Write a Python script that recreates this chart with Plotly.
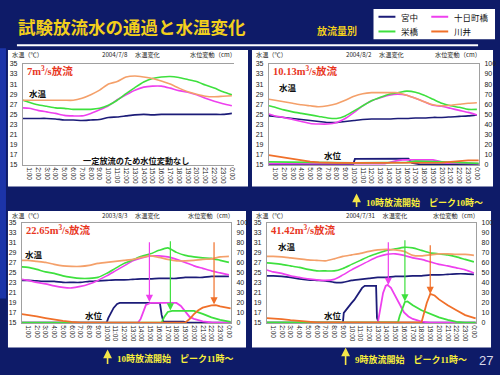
import plotly.graph_objects as go

# ---------------- data ----------------
TICK_HOURS = [1, 2, 3, 4, 5, 6, 7, 8, 9, 10, 11, 12, 13, 14, 15, 16, 17, 18, 19, 20, 21, 22, 23, 24]
TICK_LABELS = ["1:00", "2:00", "3:00", "4:00", "5:00", "6:00", "7:00", "8:00", "9:00", "10:00",
               "11:00", "12:00", "13:00", "14:00", "15:00", "16:00", "17:00", "18:00", "19:00",
               "20:00", "21:00", "22:00", "23:00", "0:00"]
TEMP_HOURS = [0.3, 1, 2, 3, 4, 5, 6, 7, 8, 9, 10, 11, 12, 13, 14, 15, 16, 17, 18, 19, 20, 21, 22, 23, 24]

STATIONS = ["宮中", "十日町橋", "栄橋", "川井"]
PANEL_DATES = ["2004/7/8", "2004/8/2", "2003/8/3", "2004/7/31"]
PANEL_FLOWS = ["7", "10.13", "22.65", "41.42"]

# panel 1 : 2004/7/8  (water temperature, deg C)
P1_MIYANAKA = [24.2, 24.2, 24.2, 24.2, 24.1, 23.9, 23.9, 23.8, 23.9, 24.0, 24.4, 24.5, 24.7, 24.9, 25.0, 24.9, 25.0, 25.0, 25.0, 25.0, 25.0, 25.0, 25.0, 25.0, 25.2]
P1_TOKAMACHI = [26.3, 26.2, 25.8, 25.5, 25.2, 24.8, 24.7, 24.7, 25.2, 25.9, 26.7, 27.9, 28.9, 29.8, 30.4, 30.6, 30.6, 30.2, 29.7, 29.4, 28.9, 28.2, 27.6, 27.1, 26.7]
P1_SAKAE = [27.8, 27.4, 26.9, 26.6, 26.3, 26.2, 26.0, 26.0, 26.0, 26.2, 26.8, 27.8, 29.1, 30.3, 31.4, 32.1, 32.4, 32.5, 32.3, 31.9, 31.5, 30.8, 30.2, 29.5, 28.9]
P1_KAWAI = [27.8, 27.8, 27.8, 27.8, 27.8, 27.8, 27.8, 28.2, 28.9, 29.8, 31.0, 31.5, 32.4, 32.6, 32.4, 32.1, 31.6, 31.0, 30.2, 29.5, 29.0, 28.6, 28.5, 28.6, 28.7]

# panel 2 : 2004/8/2
P2_MIYANAKA = [24.7, 24.6, 24.4, 24.2, 24.0, 23.8, 23.6, 23.4, 23.4, 23.6, 23.8, 24.0, 24.1, 24.1, 24.1, 24.2, 24.2, 24.3, 24.3, 24.4, 24.4, 24.5, 24.6, 24.7, 24.9]
P2_TOKAMACHI = [25.1, 24.7, 24.4, 24.0, 23.6, 23.2, 23.1, 23.1, 23.4, 24.2, 25.4, 26.7, 27.7, 28.3, 28.8, 29.0, 28.8, 28.2, 27.5, 26.8, 26.6, 26.2, 25.8, 25.4, 24.9]
P2_SAKAE = [26.7, 26.4, 25.9, 25.5, 25.2, 24.9, 24.6, 24.3, 24.2, 24.7, 25.7, 26.7, 27.7, 28.4, 29.0, 29.3, 29.6, 29.4, 28.8, 28.0, 27.2, 26.7, 26.4, 26.0, 26.0]
P2_KAWAI = [28.0, 27.8, 27.5, 27.2, 26.9, 26.7, 26.5, 26.7, 27.1, 27.8, 28.6, 29.1, 29.3, 29.3, 29.3, 29.3, 28.8, 28.2, 27.5, 26.9, 26.7, 26.8, 27.0, 27.2, 27.3]

# panel 3 : 2003/8/3
P3_MIYANAKA = [23.5, 23.5, 23.4, 23.3, 23.3, 23.1, 23.1, 23.1, 23.3, 23.4, 23.5, 23.6, 23.6, 23.7, 23.8, 23.8, 23.9, 23.9, 23.9, 24.1, 24.1, 24.1, 24.3, 24.3, 24.3]
P3_TOKAMACHI = [23.7, 23.5, 23.1, 22.8, 22.4, 22.1, 22.0, 22.3, 22.8, 23.5, 24.4, 25.4, 26.4, 27.4, 28.0, 28.4, 28.4, 28.2, 27.7, 27.1, 26.4, 25.9, 25.4, 25.0, 24.6]
P3_SAKAE = [26.2, 26.1, 25.7, 25.2, 24.9, 24.4, 24.1, 23.9, 23.9, 24.1, 24.9, 25.9, 26.9, 27.6, 28.3, 28.8, 29.5, 30.0, 29.1, 28.5, 28.2, 28.0, 27.9, 27.5, 27.1]
P3_KAWAI = [27.5, 27.5, 27.3, 27.1, 26.7, 26.4, 26.3, 26.3, 26.5, 26.9, 27.1, 27.3, 27.5, 27.7, 28.1, 28.4, 28.1, 27.7, 27.4, 27.4, 27.5, 27.7, 27.8, 28.2, 28.3]

# panel 4 : 2004/7/31
P4_MIYANAKA = [24.4, 24.4, 24.3, 24.1, 23.8, 23.6, 23.5, 23.4, 23.1, 23.1, 23.5, 23.7, 23.9, 24.1, 24.1, 24.3, 24.3, 24.4, 24.4, 24.6, 24.6, 24.7, 24.8, 24.8, 24.7]
P4_TOKAMACHI = [25.6, 25.2, 24.9, 24.4, 24.1, 23.8, 23.6, 23.5, 23.7, 24.6, 25.6, 26.5, 27.4, 28.2, 28.7, 28.8, 28.5, 28.0, 27.7, 27.2, 26.7, 26.4, 26.0, 25.6, 25.0]
P4_SAKAE = [27.0, 26.9, 26.7, 26.4, 26.1, 25.7, 25.4, 25.4, 25.4, 25.9, 26.7, 27.5, 28.3, 28.9, 29.5, 29.8, 30.1, 30.0, 29.5, 29.0, 28.8, 28.6, 28.2, 27.7, 27.2]
P4_KAWAI = [28.3, 28.3, 28.2, 28.0, 27.8, 27.6, 27.5, 27.4, 27.8, 28.3, 28.6, 28.9, 29.3, 29.6, 29.7, 29.6, 29.3, 28.5, 28.4, 28.6, 28.8, 28.8, 28.7, 28.7, 28.5]

# water level change (cm) : hours / values
P2_LV_MIYANAKA_H = [0.3, 9.9, 10.1, 16.2, 16.6, 17.5, 24.2]
P2_LV_MIYANAKA = [0.5, 0.5, 6.0, 6.3, 2.0, 0.6, 0.5]
P2_LV_TOKAMACHI_H = [0.3, 13.5, 14.8, 15.5, 19.0, 20.5, 24.2]
P2_LV_TOKAMACHI = [1.2, 1.2, 4.0, 5.0, 5.0, 2.0, 1.2]
P2_LV_SAKAE_H = [0.3, 5, 10, 16, 17, 20, 24.2]
P2_LV_SAKAE = [3.0, 2.5, 2.0, 2.5, 3.8, 3.0, 1.5]
P2_LV_KAWAI_H = [0.3, 1, 2, 3, 4, 5, 6, 7, 8, 20, 21, 22, 23, 24.2]
P2_LV_KAWAI = [9.7, 8.8, 7.1, 5.5, 4.2, 3.2, 2.6, 2.3, 2.0, 2.2, 3.2, 4.2, 4.5, 4.5]

P3_LV_MIYANAKA_H = [0.3, 10.0, 10.2, 10.5, 10.8, 11.2, 11.5, 16.1, 16.3, 16.5, 18.8, 19.2, 24.2]
P3_LV_MIYANAKA = [0.3, 0.3, 5, 10, 15, 19, 20, 20, 8, 1.2, 1.2, 0.3, 0.3]
P3_LV_TOKAMACHI_H = [0.3, 13.6, 13.9, 14.2, 14.5, 15, 18, 18.5, 19, 19.5, 20, 21, 22, 24.2]
P3_LV_TOKAMACHI = [0.3, 0.3, 4, 12, 18, 20, 20, 17, 11, 6, 4, 1.5, 0.5, 0.3]
P3_LV_SAKAE_H = [0.3, 16.3, 16.6, 17.0, 17.5, 20, 21, 22, 23, 24.2]
P3_LV_SAKAE = [0.3, 0.3, 6, 11, 12, 12, 9, 5.5, 3, 1]
P3_LV_KAWAI_H = [0.3, 1, 2, 3, 4, 5, 6, 7, 19, 19.5, 20, 20.5, 21, 22, 22.5, 23, 24.2]
P3_LV_KAWAI = [8.8, 8.1, 6.5, 4.9, 3.3, 2.0, 1.0, 0.3, 0.3, 3.9, 8.8, 12.7, 15.3, 17.6, 17.8, 16.5, 14.5]

P4_LV_MIYANAKA_H = [0.3, 9.0, 9.1, 9.5, 10.0, 10.3, 10.8, 11.2, 11.5, 12.8, 12.9, 13.1, 24.2]
P4_LV_MIYANAKA = [0.3, 0.3, 10, 15, 20, 23, 29, 35, 37, 37, 5, 0.3, 0.3]
P4_LV_TOKAMACHI_H = [0.3, 13.0, 13.3, 13.6, 13.9, 14.1, 14.5, 15, 15.5, 16, 16.5, 17, 18, 19, 24.2]
P4_LV_TOKAMACHI = [0.3, 0.3, 15, 30, 37, 38, 35, 27, 18, 10.5, 6.5, 4, 1.3, 0.3, 0.3]
P4_LV_SAKAE_H = [0.3, 15.3, 15.5, 15.8, 16.1, 16.4, 17, 18, 19, 20, 21, 22, 23, 24.2]
P4_LV_SAKAE = [0.5, 0.5, 7, 15, 21, 21.5, 17.6, 12.7, 8.8, 5.5, 3, 1, 0.3, 0.3]
P4_LV_KAWAI_H = [0.3, 1, 2, 3, 4, 5, 6, 18.0, 18.3, 18.6, 19, 19.5, 20, 21, 22, 23, 24.2]
P4_LV_KAWAI = [4.9, 4.6, 3.9, 2.9, 2.3, 1.3, 0.5, 0.5, 10, 20, 29, 27.4, 23.5, 17.6, 12.7, 7.8, 4.5]

# peak-passage arrows (hour, level at top, level at tip) for 十日町橋 / 栄橋 / 川井
P3_ARROW_H = [14.9, 17.3, 22.3]
P3_ARROW_TOP = [82, 83, 82]
P3_ARROW_TIP = [21, 12.5, 18.5]
P4_ARROW_H = [14.2, 16.1, 19.0]
P4_ARROW_TOP = [82, 84, 79]
P4_ARROW_TIP = [38, 21.5, 29]

# ---------------- styling ----------------
W, H = 500, 375
BG = "#0e1b68"
TEMP_COLORS = ["#1c1c78", "#ee40ee", "#3ee03e", "#f4a06a"]
LEVEL_COLORS = ["#1c1c78", "#ee40ee", "#3ee03e", "#f0702a"]
LEGEND_COLORS = ["#1c1c78", "#ee40ee", "#3ee03e", "#f0702a"]
CJK = "Noto Sans CJK JP"
SERIF = "Liberation Serif, Noto Sans CJK JP"
SANS = "Liberation Sans, Arial"


def px(x):
    return x / W


def py(y):
    return 1 - y / H


def text_ann(x, y, text, font, xanchor="left"):
    return dict(xref="paper", yref="paper", x=px(x), y=py(y), xanchor=xanchor, yanchor="middle",
                text=text, showarrow=False, font=font)


# panel geometry in pixels: box (x0,x1,y0,y1), plot (x0,x1,y0,y1)
PANELS = [
    dict(box=(8, 249, 47, 186), plot=(23, 235, 61, 164)),
    dict(box=(253, 495, 47, 186), plot=(270, 481, 61, 164)),
    dict(box=(8, 247, 211, 350), plot=(22, 232, 223, 325)),
    dict(box=(253, 493, 211, 350), plot=(268, 478, 223, 325)),
]

temps = [
    [P1_MIYANAKA, P1_TOKAMACHI, P1_SAKAE, P1_KAWAI],
    [P2_MIYANAKA, P2_TOKAMACHI, P2_SAKAE, P2_KAWAI],
    [P3_MIYANAKA, P3_TOKAMACHI, P3_SAKAE, P3_KAWAI],
    [P4_MIYANAKA, P4_TOKAMACHI, P4_SAKAE, P4_KAWAI],
]
levels = [
    [],
    [(P2_LV_MIYANAKA_H, P2_LV_MIYANAKA), (P2_LV_TOKAMACHI_H, P2_LV_TOKAMACHI),
     (P2_LV_SAKAE_H, P2_LV_SAKAE), (P2_LV_KAWAI_H, P2_LV_KAWAI)],
    [(P3_LV_MIYANAKA_H, P3_LV_MIYANAKA), (P3_LV_TOKAMACHI_H, P3_LV_TOKAMACHI),
     (P3_LV_SAKAE_H, P3_LV_SAKAE), (P3_LV_KAWAI_H, P3_LV_KAWAI)],
    [(P4_LV_MIYANAKA_H, P4_LV_MIYANAKA), (P4_LV_TOKAMACHI_H, P4_LV_TOKAMACHI),
     (P4_LV_SAKAE_H, P4_LV_SAKAE), (P4_LV_KAWAI_H, P4_LV_KAWAI)],
]
arrows = [None, None,
          (P3_ARROW_H, P3_ARROW_TOP, P3_ARROW_TIP),
          (P4_ARROW_H, P4_ARROW_TOP, P4_ARROW_TIP)]

fig = go.Figure()
layout = dict(
    width=W, height=H, margin=dict(l=0, r=0, t=0, b=0),
    paper_bgcolor=BG, plot_bgcolor="white", showlegend=False,
)
shapes = []
annotations = []

# left bright strip
shapes.append(dict(type="rect", xref="paper", yref="paper", x0=0, x1=px(6), y0=py(300), y1=py(45),
                   fillcolor="#1c34a8", line=dict(width=0), layer="below"))

for i, p in enumerate(PANELS):
    n = i + 1
    xname = "xaxis" if n == 1 else f"xaxis{n}"
    xref = "x" if n == 1 else f"x{n}"
    yl = 2 * n - 1
    yr = 2 * n
    ylname = "yaxis" if yl == 1 else f"yaxis{yl}"
    ylref = "y" if yl == 1 else f"y{yl}"
    yrname = f"yaxis{yr}"
    yrref = f"y{yr}"
    bx0, bx1, by0, by1 = p["box"]
    qx0, qx1, qy0, qy1 = p["plot"]

    shapes.append(dict(type="rect", xref="paper", yref="paper", x0=px(bx0), x1=px(bx1),
                       y0=py(by1), y1=py(by0), fillcolor="white", line=dict(width=0), layer="below"))

    layout[xname] = dict(domain=[px(qx0), px(qx1)], anchor=ylref, range=[0.3, 24.25],
                         tickmode="array", tickvals=TICK_HOURS, ticktext=TICK_LABELS, tickangle=90,
                         tickfont=dict(family=SANS, size=6.5, color="#202020"),
                         showline=True, mirror=True, linecolor="#a0a0a0", linewidth=1,
                         showgrid=False, zeroline=False, ticks="")
    layout[ylname] = dict(domain=[py(qy1), py(qy0)], anchor=xref, range=[15, 35], tick0=15, dtick=2,
                          tickfont=dict(family=SANS, size=7, color="#202020"),
                          showline=True, linecolor="#a0a0a0", showgrid=False, zeroline=False,
                          ticks="", ticklabelstandoff=3)
    layout[yrname] = dict(overlaying=ylref, anchor=xref, side="right", range=[0, 100], dtick=10,
                          tickfont=dict(family=SANS, size=7, color="#202020"),
                          showline=True, linecolor="#a0a0a0", showgrid=False, zeroline=False,
                          ticks="", ticklabelstandoff=3)

    # temperature lines
    for s, vals in enumerate(temps[i]):
        fig.add_trace(go.Scatter(x=TEMP_HOURS, y=vals, xaxis=xref, yaxis=ylref, mode="lines",
                                 name=STATIONS[s], hoverinfo="skip",
                                 line=dict(color=TEMP_COLORS[s], width=1.6, shape="spline", smoothing=0.6)))
    # water level lines
    for s, (hh, vv) in enumerate(levels[i]):
        fig.add_trace(go.Scatter(x=hh, y=vv, xaxis=xref, yaxis=yrref, mode="lines",
                                 name=STATIONS[s], hoverinfo="skip",
                                 line=dict(color=LEVEL_COLORS[s], width=1.8)))
    # arrows
    if arrows[i] is not None:
        ah, atop, atip = arrows[i]
        for k in range(3):
            annotations.append(dict(xref=xref, yref=yrref, axref=xref, ayref=yrref,
                                    x=ah[k], y=atip[k], ax=ah[k], ay=atop[k], text="",
                                    showarrow=True, arrowhead=2, arrowsize=1.2, arrowwidth=1.2,
                                    arrowcolor=LEVEL_COLORS[k + 1], standoff=0))

    # header texts
    hfont = dict(family=CJK, size=6.2, color="#202020")
    hy = by0 + 4.5
    annotations.append(text_ann(bx0 + 2, hy, "水温（℃）", hfont))
    annotations.append(text_ann(bx0 + 92, hy, PANEL_DATES[i] + "　 水温変化", hfont))
    annotations.append(text_ann(bx1 - 10, hy, "水位変動（cm）", hfont, xanchor="right"))
    # red flow label
    annotations.append(text_ann(qx0 + 2, qy0 + 7, "<b>" + PANEL_FLOWS[i] + "m<sup>3</sup>/s放流</b>",
                                dict(family=SERIF, size=10.5, color="#e8361e")))

# "水温" / "水位" labels
lfont = dict(family=CJK, size=8.5, color="#111111")
for (x, y) in [(27, 91), (278, 85), (23, 255), (277, 247)]:
    annotations.append(text_ann(x, y, "<b>水温</b>", lfont))
for (x, y) in [(323, 154), (83, 317), (323, 317)]:
    annotations.append(text_ann(x, y, "<b>水位</b>", lfont))
annotations.append(text_ann(137, 159, "<b>一定放流のため水位変動なし</b>",
                            dict(family=CJK, size=8.2, color="#111111"), xanchor="center"))

# title and header line
annotations.append(text_ann(16, 23, "<b>試験放流水の通過と水温変化</b>",
                            dict(family=CJK, size=17.5, color="#f2cf1c")))
annotations.append(text_ann(316, 27, "<b>放流量別</b>", dict(family=CJK, size=10, color="#f2cf1c")))
shapes.append(dict(type="line", xref="paper", yref="paper", x0=px(17), x1=px(480), y0=py(42), y1=py(42),
                   line=dict(color="white", width=2)))

# legend box
shapes.append(dict(type="rect", xref="paper", yref="paper", x0=px(375), x1=px(497), y0=py(36), y1=py(5),
                   fillcolor="white", line=dict(width=0)))
LEG_POS = [(380, 13), (433, 13), (380, 28), (433, 28)]
for s, (lx, ly) in enumerate(LEG_POS):
    shapes.append(dict(type="line", xref="paper", yref="paper", x0=px(lx), x1=px(lx + 17),
                       y0=py(ly), y1=py(ly), line=dict(color=LEGEND_COLORS[s], width=2)))
    annotations.append(text_ann(lx + 21, ly, STATIONS[s], dict(family=CJK, size=8.5, color="#111111")))

# release-start notes
NOTES = [(358, 193, 208, 202, "10時放流開始　ピーク10時〜"),
         (108, 352, 368, 361, "10時放流開始　ピーク11時〜"),
         (347, 350, 369, 362, "9時放流開始　ピーク11時〜")]
for (ax_, ytip, ytail, ytext, txt) in NOTES:
    annotations.append(dict(xref="paper", yref="paper", x=px(ax_), y=py(ytip), ax=0, ay=ytail - ytip,
                            text="", showarrow=True, arrowhead=2, arrowsize=1.1, arrowwidth=1.6,
                            arrowcolor="#f5e64a", standoff=0))
    annotations.append(text_ann(ax_ + 7, ytext, "<b>" + txt + "</b>",
                                dict(family=SERIF, size=9, color="#f8ee3a")))

annotations.append(text_ann(488, 363, "27", dict(family=SANS, size=13, color="#d8d8e8"), xanchor="center"))

layout["shapes"] = shapes
layout["annotations"] = annotations
fig.update_layout(**layout)
fig.write_html("out.html", config={"displayModeBar": False},
               post_script="document.body.style.margin='0';document.body.style.overflow='hidden';")
